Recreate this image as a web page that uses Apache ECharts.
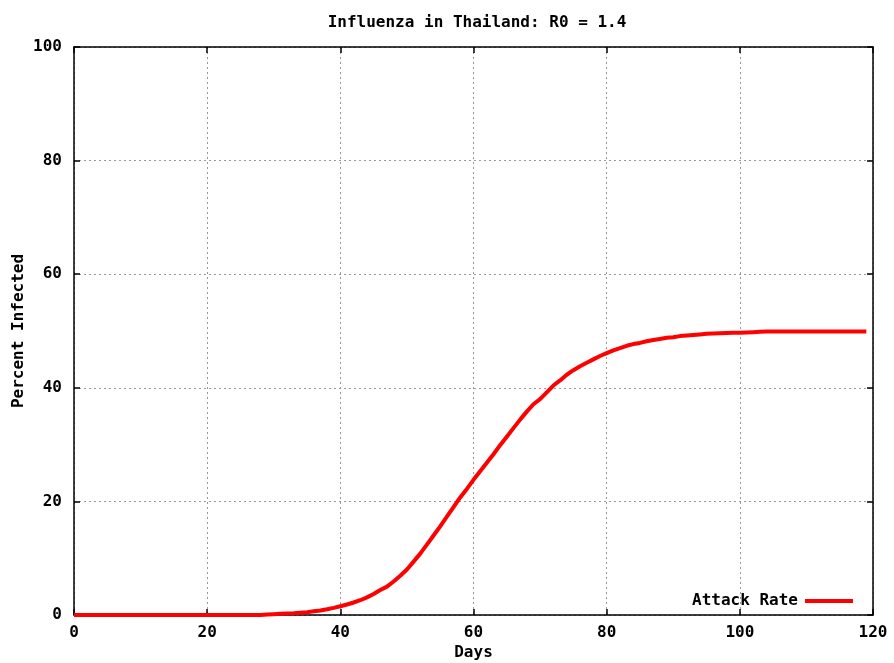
<!DOCTYPE html>
<html>
<head>
<meta charset="utf-8">
<script src="https://cdn.jsdelivr.net/npm/echarts@6/dist/echarts.min.js"></script>
<style>
  html, body { margin: 0; padding: 0; background: #fff; }
  #chart { width: 894px; height: 663px; }
</style>
</head>
<body>
<div id="chart"></div>
<script>
// Cumulative attack rate (% infected) by simulation day
const days = [];
for (let d = 0; d <= 119; d++) days.push(d);

const attackRate = [
  0, 0, 0, 0, 0, 0, 0, 0, 0, 0,
  0, 0, 0, 0, 0, 0, 0, 0, 0, 0,
  0, 0, 0, 0, 0, 0, 0, 0, 0, 0.1,
  0.15, 0.2, 0.25, 0.3, 0.4, 0.5, 0.65, 0.8, 1.0, 1.25,
  1.55, 1.85, 2.2, 2.6, 3.1, 3.7, 4.4, 5.0, 5.9, 6.9,
  8.0, 9.4, 10.8, 12.4, 14.0, 15.6, 17.3, 19.0, 20.7, 22.2,
  23.8, 25.3, 26.8, 28.3, 29.9, 31.4, 32.9, 34.4, 35.8, 37.1,
  38.0, 39.2, 40.4, 41.3, 42.3, 43.1, 43.8, 44.4, 45.0, 45.6,
  46.1, 46.6, 47.0, 47.4, 47.7, 47.9, 48.2, 48.4, 48.6, 48.8,
  48.9, 49.1, 49.2, 49.3, 49.4, 49.5, 49.55, 49.6, 49.65, 49.7,
  49.7, 49.75, 49.8, 49.85, 49.9, 49.9, 49.9, 49.9, 49.9, 49.9,
  49.9, 49.9, 49.9, 49.9, 49.9, 49.9, 49.9, 49.9, 49.9, 49.9
];

const xTicks = [0, 20, 40, 60, 80, 100, 120];
const yTicks = [0, 20, 40, 60, 80, 100];

const FONT = 'DejaVu Sans Mono';
const txt = { fontFamily: FONT, fontWeight: 'bold', fontSize: 16, color: '#000' };

const frameLine = { show: true, onZero: false, lineStyle: { color: '#000', width: 1.5 } };
const frameTick = { show: true, inside: true, length: 6, lineStyle: { color: '#000', width: 1.5 } };
const gridLine = { show: true, lineStyle: { color: '#999', width: 1, type: [2, 3] } };

// Top and right axes only close the frame and carry inward ticks
const frameAxis = {
  axisLine: frameLine,
  axisTick: frameTick,
  axisLabel: { show: false },
  splitLine: { show: false }
};

const chart = echarts.init(document.getElementById('chart'), null, { renderer: 'canvas' });
chart.setOption({
  animation: false,
  backgroundColor: '#fff',
  title: {
    text: 'Influenza in Thailand: R0 = 1.4',
    left: 472, top: 10, textAlign: 'center',
    textStyle: Object.assign({}, txt)
  },
  legend: {
    data: ['Attack Rate'],
    right: 36, top: 588,
    align: 'right',
    itemWidth: 48, itemHeight: 4, itemGap: 10,
    icon: 'rect',
    textStyle: Object.assign({}, txt, { padding: [0, 2, 0, 0] })
  },
  grid: { left: 74, right: 21, top: 47, bottom: 48, outerBoundsMode: 'none', containLabel: false },
  xAxis: [
    {
      type: 'value', min: xTicks[0], max: xTicks[xTicks.length - 1], interval: 20,
      name: 'Days', nameLocation: 'middle', nameGap: 30, nameMoveOverlap: false,
      nameTextStyle: Object.assign({}, txt),
      axisLine: frameLine,
      axisTick: frameTick,
      axisLabel: Object.assign({ margin: 10 }, txt),
      splitLine: gridLine
    },
    Object.assign({ type: 'value', position: 'top', min: 0, max: 120, interval: 20 }, frameAxis)
  ],
  yAxis: [
    {
      type: 'value', min: yTicks[0], max: yTicks[yTicks.length - 1], interval: 20,
      name: 'Percent Infected', nameLocation: 'middle', nameGap: 47, nameRotate: 90,
      nameMoveOverlap: false,
      nameTextStyle: Object.assign({}, txt),
      axisLine: frameLine,
      axisTick: frameTick,
      axisLabel: Object.assign({ margin: 12 }, txt),
      splitLine: gridLine
    },
    Object.assign({ type: 'value', position: 'right', min: 0, max: 100, interval: 20 }, frameAxis)
  ],
  series: [{
    name: 'Attack Rate',
    type: 'line',
    xAxisIndex: 0, yAxisIndex: 0,
    data: days.map((d, i) => [d, attackRate[i]]),
    showSymbol: false,
    symbol: 'none',
    color: '#ff0000',
    lineStyle: { color: '#ff0000', width: 4 },
    z: 5
  }]
});
</script>
</body>
</html>
